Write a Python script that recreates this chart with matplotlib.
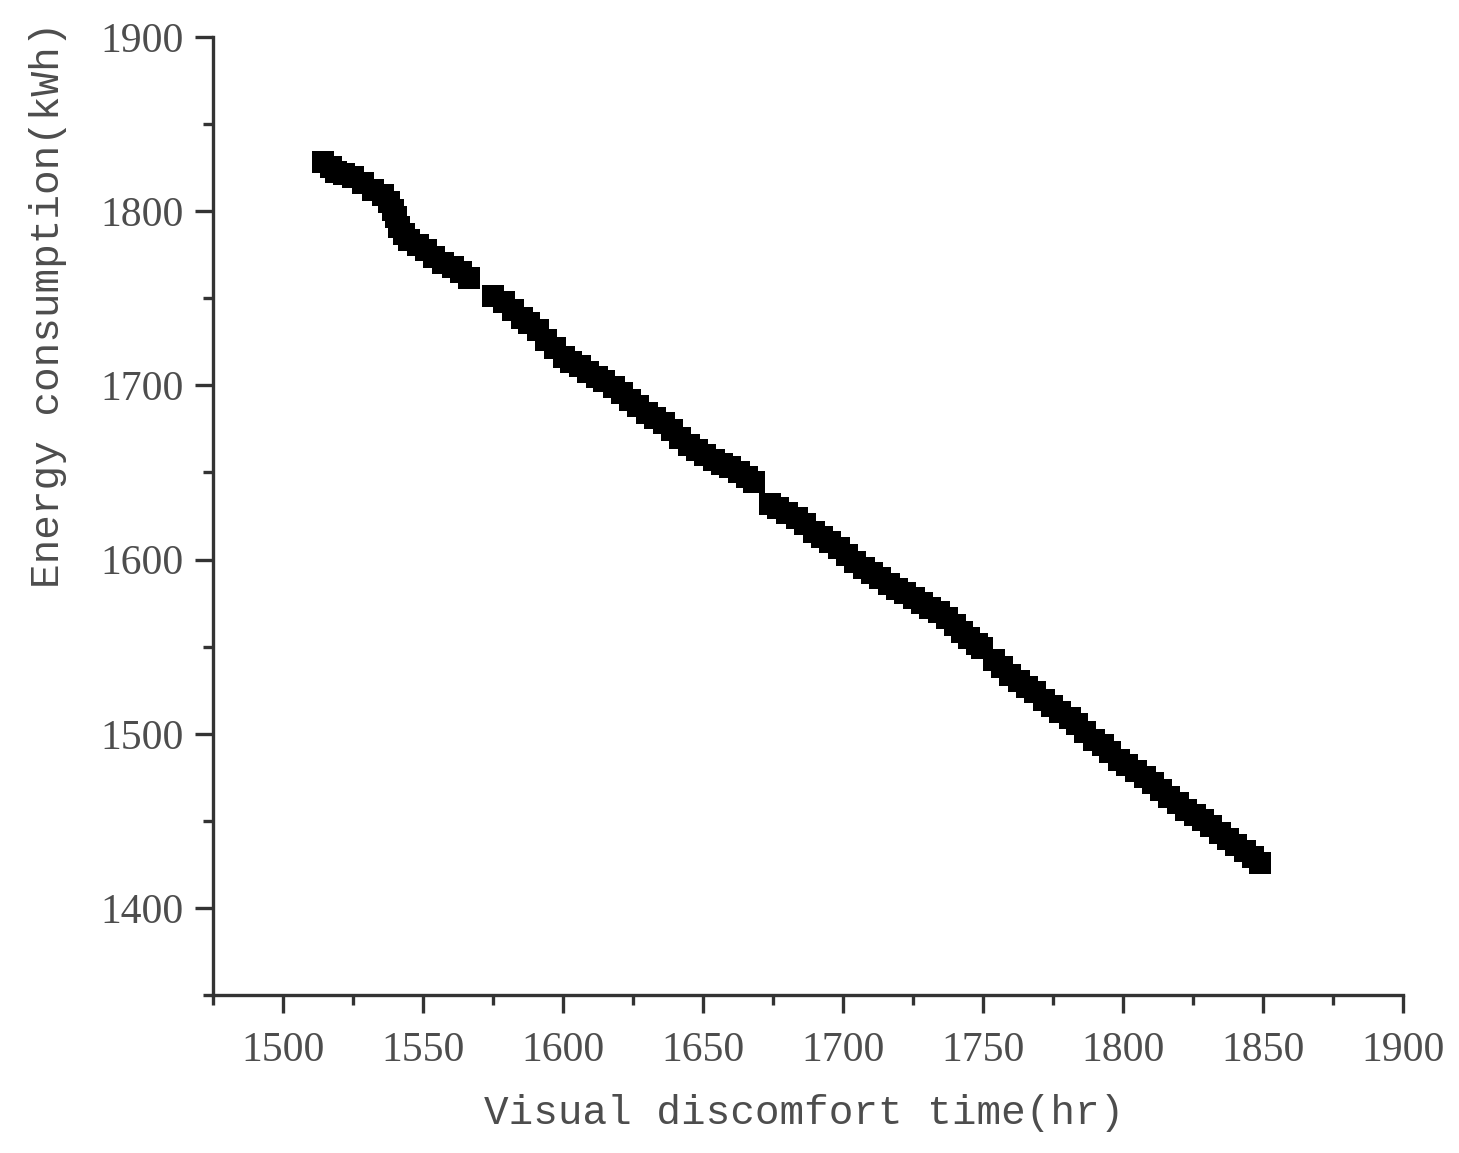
import matplotlib
matplotlib.use("Agg")
import matplotlib.pyplot as plt
from matplotlib.ticker import MultipleLocator

# Pareto front (visual discomfort hr, energy kWh)
discomfort_hr = [
    1514.3, 1517.2, 1519.0, 1521.8, 1525.0, 1528.6, 1532.2, 1535.8, 1537.9,
    1539.4, 1540.4, 1541.5, 1543.3, 1545.1, 1548.3, 1551.2, 1554.0, 1557.2,
    1560.8, 1563.7, 1566.5,
    1575.0, 1579.1, 1582.3, 1585.2, 1588.0, 1590.9, 1594.1, 1597.0, 1600.2,
    1603.0, 1605.9, 1609.1, 1612.0, 1614.8, 1618.1, 1620.9, 1623.8, 1626.7,
    1629.9, 1632.7, 1636.0, 1638.8, 1641.7, 1644.9, 1647.8, 1650.6, 1653.8,
    1656.7, 1659.6, 1662.8, 1665.7, 1668.2,
    1673.9, 1676.7, 1680.0, 1683.5, 1686.4, 1689.6, 1692.5, 1695.3, 1698.6,
    1701.4, 1704.3, 1707.5, 1710.4, 1713.2, 1716.5, 1719.3, 1722.2, 1725.4,
    1728.3, 1731.1, 1734.3, 1737.2, 1740.1, 1742.6, 1745.1, 1747.9, 1749.7,
    1754.0, 1756.9, 1759.7, 1763.0, 1765.8, 1768.7, 1771.9, 1774.8, 1777.6,
    1780.9, 1783.7, 1786.6, 1789.8, 1792.7, 1795.5, 1798.7, 1801.6, 1804.5,
    1807.7, 1810.6, 1813.4, 1816.6, 1819.5, 1822.4, 1825.6, 1828.4, 1831.3,
    1834.5, 1837.4, 1840.2, 1843.5, 1846.3, 1848.8,
]
energy_kwh = [
    1828.2, 1825.4, 1822.5, 1821.4, 1819.6, 1816.2, 1812.2, 1809.3, 1805.3,
    1800.7, 1796.7, 1790.9, 1786.9, 1783.5, 1780.6, 1777.7, 1773.7, 1770.3,
    1768.0, 1765.1, 1761.7,
    1751.5, 1747.9, 1743.3, 1738.7, 1735.8, 1731.8, 1726.1, 1721.5, 1716.3,
    1713.4, 1711.1, 1707.7, 1704.8, 1702.5, 1699.1, 1695.6, 1691.6, 1688.2,
    1684.2, 1681.3, 1678.4, 1674.4, 1669.8, 1665.8, 1662.9, 1660.0, 1657.2,
    1654.9, 1653.2, 1650.3, 1647.4, 1644.5,
    1631.9, 1629.6, 1626.8, 1623.9, 1620.4, 1615.8, 1613.0, 1610.1, 1606.7,
    1602.6, 1598.6, 1595.2, 1592.3, 1589.4, 1586.0, 1583.1, 1580.8, 1577.9,
    1575.1, 1572.2, 1569.9, 1566.5, 1562.5, 1558.4, 1555.0, 1551.5, 1549.1,
    1542.4, 1538.3, 1533.8, 1530.3, 1526.9, 1524.0, 1519.4, 1516.0, 1512.5,
    1509.1, 1505.6, 1501.0, 1496.4, 1493.6, 1489.6, 1484.9, 1482.1, 1478.6,
    1475.2, 1471.8, 1467.7, 1463.7, 1460.2, 1456.3, 1453.4, 1450.5, 1447.1,
    1443.1, 1439.6, 1436.2, 1432.7, 1429.3, 1425.8,
]

x_label = "Visual discomfort time(hr)"
y_label = "Energy consumption(kWh)"

axis_col = "#333333"
text_col = "#4d4d4d"

fig = plt.figure(figsize=(14.59, 11.53), dpi=100)
ax = fig.add_axes([0.146, 0.137, 0.8156, 0.8309])

ax.plot(discomfort_hr, energy_kwh, linestyle="none", marker="s",
        markersize=16.5, color="black", markeredgewidth=0)

ax.set_xlim(1475, 1900)
ax.set_ylim(1350, 1900)
ax.xaxis.set_major_locator(MultipleLocator(50))
ax.xaxis.set_minor_locator(MultipleLocator(25))
ax.yaxis.set_major_locator(MultipleLocator(100))
ax.yaxis.set_minor_locator(MultipleLocator(50))

for side in ("top", "right"):
    ax.spines[side].set_visible(False)
for side in ("left", "bottom"):
    ax.spines[side].set_linewidth(2.4)
    ax.spines[side].set_color(axis_col)

ax.tick_params(which="major", direction="out", length=13, width=2.4,
               color=axis_col, labelsize=30, labelcolor=text_col, pad=8)
ax.tick_params(axis="x", which="major", pad=13)
ax.tick_params(which="minor", direction="out", length=7, width=2.4,
               color=axis_col)
for lbl in ax.get_xticklabels() + ax.get_yticklabels():
    lbl.set_fontfamily("Liberation Serif")

ax.set_xlabel(x_label, fontsize=29.5, family="Liberation Mono", color=text_col)
ax.set_ylabel(y_label, fontsize=29.5, family="Liberation Mono", color=text_col)
ax.xaxis.set_label_coords(0.497, -0.103)
ax.yaxis.set_label_coords(-0.123, 0.72)

fig.savefig("out.png", dpi=100)
